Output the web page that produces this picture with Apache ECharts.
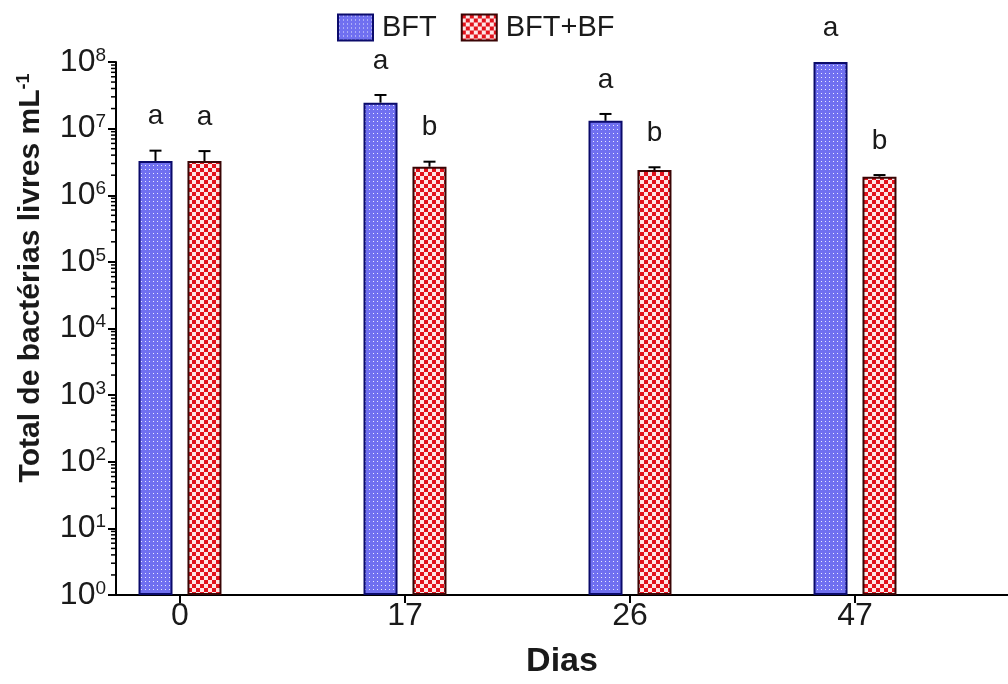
<!DOCTYPE html>
<html><head><meta charset="utf-8">
<script src="https://cdn.jsdelivr.net/npm/echarts@6/dist/echarts.min.js"></script>
<style>html,body{margin:0;padding:0;background:#fff}#c{width:1008px;height:684px}</style>
</head><body><div id="c"></div>
<script>
// ---- data ----
const categories = ['0', '17', '26', '47'];
const seriesNames = ['BFT', 'BFT+BF'];
const bftMean  = [3.27e6, 2.45e7, 1.31e7, 1.0e8];
const bftUpper = [4.67e6, 3.2e7, 1.66e7, 1.0e8];
const bfMean   = [3.27e6, 2.68e6, 2.39e6, 1.90e6];
const bfUpper  = [4.6e6, 3.19e6, 2.63e6, 2.01e6];
const bftLetters = ['a', 'a', 'a', 'a'];
const bfLetters  = ['a', 'b', 'b', 'b'];
const yMin = 1, yMax = 1e8;

// ---- layout / style ----
const FONT = 'Liberation Sans, Arial, Helvetica, sans-serif';
const TXT = '#1a1a1a';
const xMin = -0.2844, xMax = 3.68;
const BAR_W = 34, BAR_OFF = 24.5;

function makePattern(kind) {
  const c = document.createElement('canvas');
  if (kind === 'blue') {
    c.width = 4; c.height = 4;
    const g = c.getContext('2d');
    g.fillStyle = '#7070f0'; g.fillRect(0, 0, 4, 4);
    g.fillStyle = '#eaeaff'; g.fillRect(1, 1, 1, 1);
  } else {
    c.width = 8; c.height = 8;
    const g = c.getContext('2d');
    g.fillStyle = '#fde6e6'; g.fillRect(0, 0, 8, 8);
    g.fillStyle = '#e3121c'; g.fillRect(0, 0, 4, 4); g.fillRect(4, 4, 4, 4);
  }
  return { image: c, repeat: 'repeat' };
}

// minor log ticks (axis decoration)
const minorVals = [];
for (let n = Math.log10(yMin); n < Math.log10(yMax); n++)
  for (let k = 2; k <= 9; k++) minorVals.push(k * Math.pow(10, n));

function errSeries(means, uppers, letters, off) {
  return {
    type: 'custom', coordinateSystem: 'cartesian2d', silent: true, z: 5,
    data: means.map((m, i) => [i, m, uppers[i]]),
    encode: { x: 0, y: [1, 2] },
    renderItem: function (params, api) {
      const i = api.value(0);
      const b = api.coord([i, api.value(1)]);
      const t = api.coord([i, api.value(2)]);
      const x = b[0] + off;
      const ch = [];
      if (b[1] - t[1] > 0.5) {
        ch.push({ type: 'line', shape: { x1: x, y1: b[1], x2: x, y2: t[1] }, style: { stroke: '#000', lineWidth: 2 } });
        ch.push({ type: 'line', shape: { x1: x - 6, y1: t[1], x2: x + 6, y2: t[1] }, style: { stroke: '#000', lineWidth: 2 } });
      }
      ch.push({ type: 'text', x: x, y: t[1] - 34,
        style: { text: letters[params.dataIndex], fill: TXT, font: '28px ' + FONT, align: 'center', verticalAlign: 'middle' } });
      return { type: 'group', children: ch };
    }
  };
}

const chart = echarts.init(document.getElementById('c'), null, { renderer: 'canvas' });
chart.setOption({
  animation: false,
  backgroundColor: '#fff',
  grid: { left: 116, right: 0, top: 62, bottom: 89, containLabel: false, outerBoundsMode: 'none' },
  legend: {
    data: seriesNames, left: 337, top: 13, padding: 0, itemWidth: 35, itemHeight: 26, itemGap: 24, icon: 'rect',
    textStyle: { fontSize: 29, color: TXT, fontFamily: FONT, padding: [0, 0, 0, 4] }
  },
  xAxis: {
    type: 'value', min: xMin, max: xMax,
    splitLine: { show: false },
    axisLine: { show: true, onZero: false, lineStyle: { color: '#000', width: 2 } },
    axisTick: { show: true, length: 8, lineStyle: { color: '#000', width: 2 }, customValues: [0, 1, 2, 3] },
    axisLabel: { customValues: [0, 1, 2, 3], formatter: v => categories[Math.round(v)], fontSize: 32, color: TXT, fontFamily: FONT, margin: 5 },
    name: 'Dias', nameLocation: 'middle', nameGap: 50,
    nameTextStyle: { fontSize: 34, fontWeight: 'bold', color: TXT, fontFamily: FONT }
  },
  yAxis: {
    type: 'log', logBase: 10, min: yMin, max: yMax, interval: 1,
    splitLine: { show: false },
    axisLine: { show: true, onZero: false, lineStyle: { color: '#000', width: 2 } },
    axisTick: { show: true, length: 8, lineStyle: { color: '#000', width: 2 } },
    axisLabel: {
      margin: 10, color: TXT, fontFamily: FONT,
      formatter: v => '{b|10}{s|' + Math.round(Math.log10(v)) + '}',
      rich: {
        b: { fontSize: 32, fontFamily: FONT, color: TXT },
        s: { fontSize: 19, fontFamily: FONT, color: TXT, verticalAlign: 'top', padding: [0, 0, 12, 0] }
      }
    }
  },
  graphic: [{
    type: 'text', x: 31, y: 278, rotation: Math.PI / 2,
    style: {
      text: '{t|Total de bactérias livres mL}{s|-1}',
      align: 'center', verticalAlign: 'middle',
      rich: {
        t: { fontSize: 30, fontWeight: 'bold', fontFamily: FONT, fill: TXT },
        s: { fontSize: 18, fontWeight: 'bold', fontFamily: FONT, fill: TXT, verticalAlign: 'top', padding: [0, 0, 14, 0] }
      }
    }
  }],
  series: [
    {
      name: seriesNames[0], type: 'bar', barWidth: BAR_W, barGap: '44%',
      data: bftMean.map((v, i) => [i, v]),
      itemStyle: { color: makePattern('blue'), borderColor: '#0b0b6b', borderWidth: 2 }
    },
    {
      name: seriesNames[1], type: 'bar', barWidth: BAR_W, barGap: '44%',
      data: bfMean.map((v, i) => [i, v]),
      itemStyle: { color: makePattern('red'), borderColor: '#3a0505', borderWidth: 2 }
    },
    errSeries(bftMean, bftUpper, bftLetters, -BAR_OFF),
    errSeries(bfMean, bfUpper, bfLetters, BAR_OFF),
    {
      type: 'custom', coordinateSystem: 'cartesian2d', silent: true, z: 6,
      data: minorVals.map(v => [xMin, v]),
      renderItem: function (params, api) {
        const p = api.coord([api.value(0), api.value(1)]);
        return { type: 'line', shape: { x1: p[0] - 5, y1: p[1], x2: p[0], y2: p[1] }, style: { stroke: '#000', lineWidth: 1.5 } };
      }
    }
  ]
});
</script></body></html>
